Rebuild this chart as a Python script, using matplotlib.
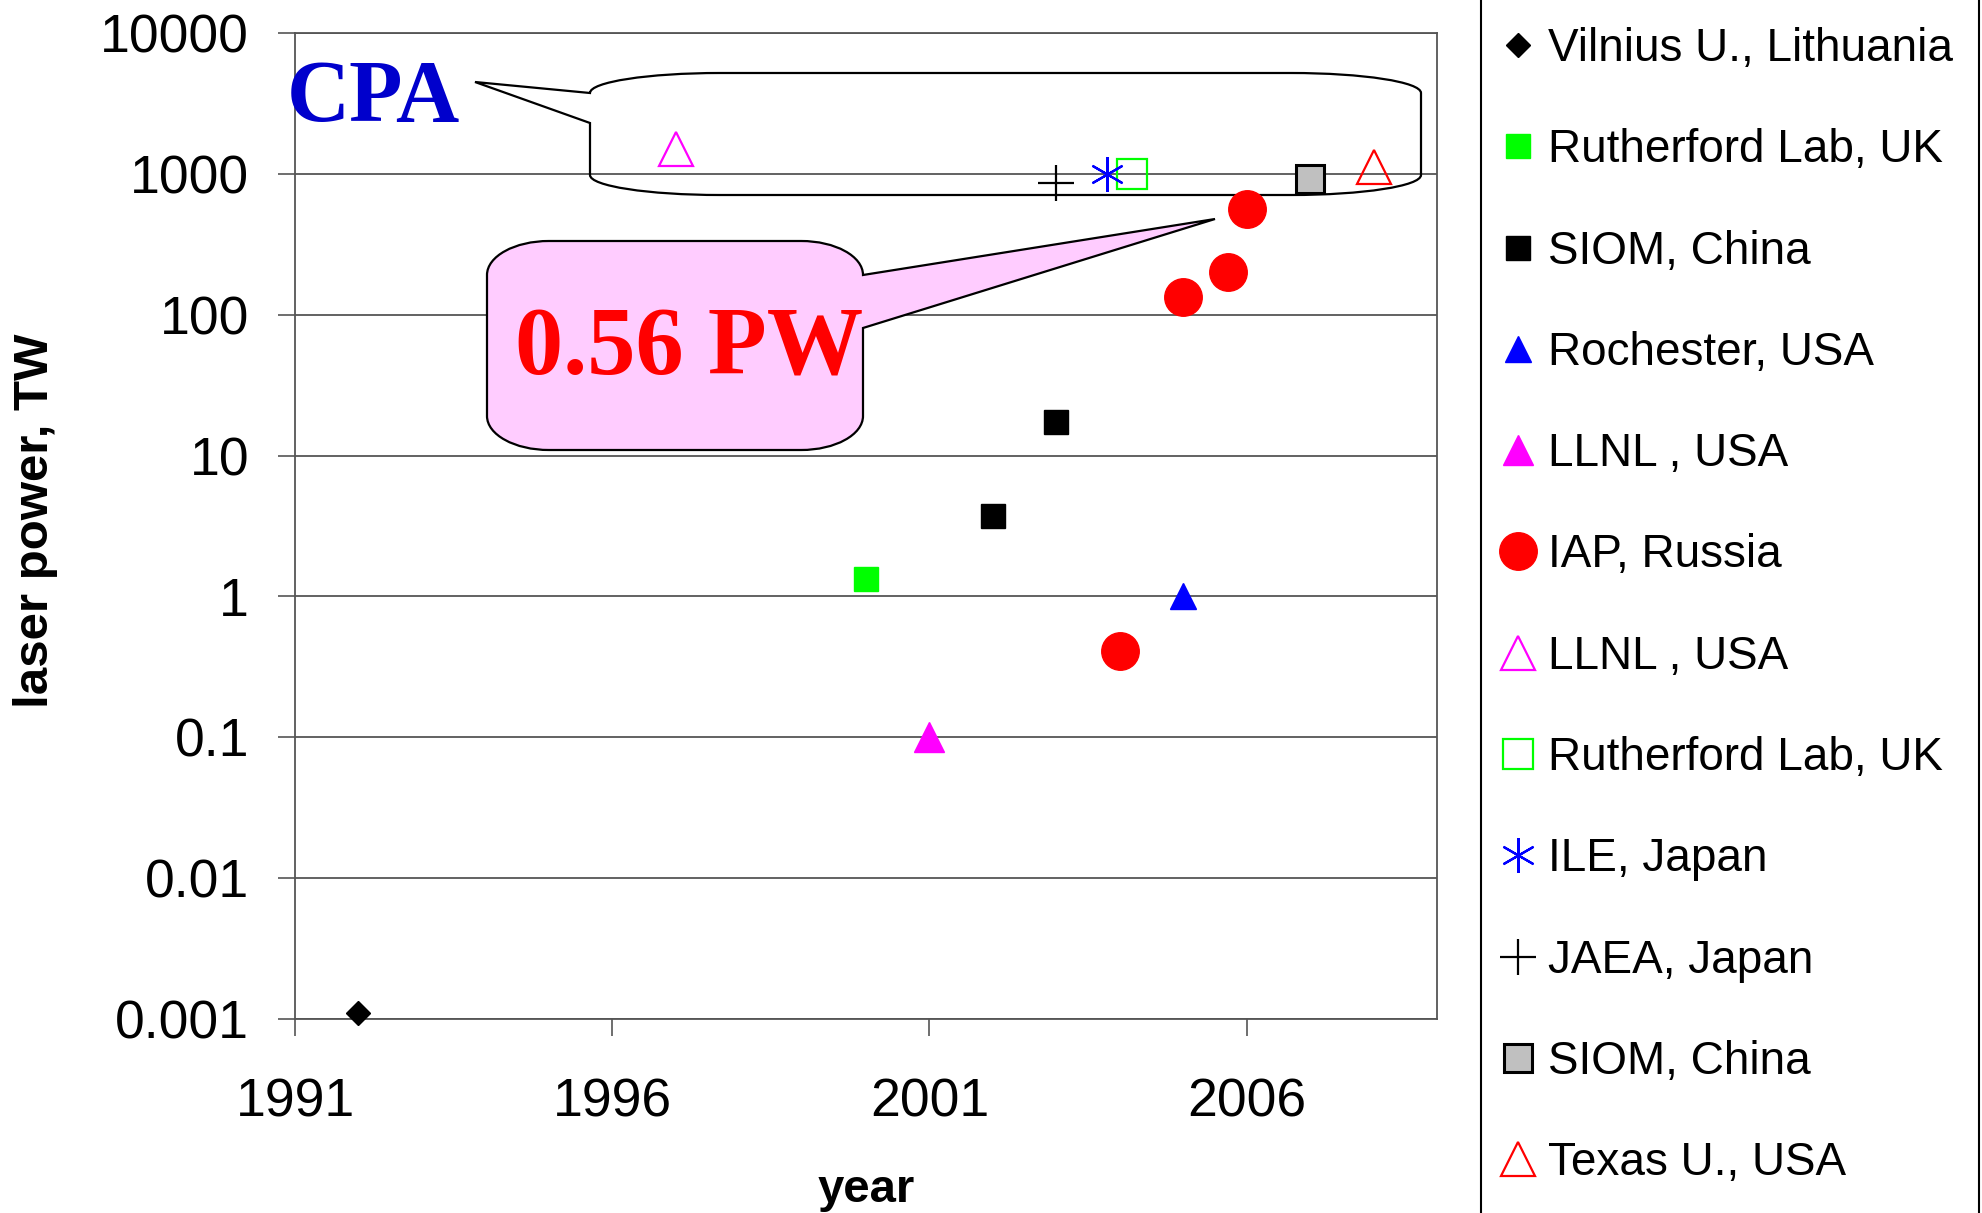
import matplotlib
matplotlib.use("Agg")
import matplotlib.pyplot as plt
from matplotlib.path import Path
from matplotlib.patches import PathPatch
from matplotlib.lines import Line2D
from matplotlib.ticker import FixedLocator, FixedFormatter, NullLocator

# data (year, laser power in TW)
vilnius_year = [1992]
vilnius_tw = [0.0011]
ral_year = [2000]
ral_tw = [1.33]
siom_year = [2002, 2003]
siom_tw = [3.7, 17.3]
rochester_year = [2005]
rochester_tw = [1.0]
llnl_year = [2001]
llnl_tw = [0.1]
iap_year = [2004, 2005, 2005.7, 2006]
iap_tw = [0.41, 133, 202, 560]
llnl_cpa_year = [1997]
llnl_cpa_tw = [1500]
ral_cpa_year = [2004.2]
ral_cpa_tw = [1000]
ile_year = [2003.8]
ile_tw = [1000]
jaea_year = [2003]
jaea_tw = [860]
siom_cpa_year = [2007]
siom_cpa_tw = [915]
texas_year = [2008]
texas_tw = [1120]

year_ticks = [1991, 1996, 2001, 2006]
power_ticks = [0.001, 0.01, 0.1, 1, 10, 100, 1000, 10000]
power_labels = ["0.001", "0.01", "0.1", "1", "10", "100", "1000", "10000"]

W, H = 1982, 1213
plt.rcParams['font.family'] = ['Liberation Sans', 'DejaVu Sans']

fig = plt.figure(figsize=(W / 100, H / 100), dpi=100)
ax = fig.add_axes([295 / W, 1 - 1019 / H, (1437 - 295) / W, (1019 - 33) / H])

ax.set_yscale("log")
ax.set_xlim(1991, 2009)
ax.set_ylim(0.001, 10000)

ax.xaxis.set_major_locator(FixedLocator(year_ticks))
ax.xaxis.set_minor_locator(NullLocator())
ax.yaxis.set_major_locator(FixedLocator(power_ticks))
ax.yaxis.set_major_formatter(FixedFormatter(power_labels))
ax.yaxis.set_minor_locator(NullLocator())
ax.tick_params(axis="both", direction="out", length=12, width=1.2, color="#555555", labelsize=38.5)
ax.tick_params(axis="y", pad=21)
ax.tick_params(axis="x", pad=30)
ax.grid(axis="y", color="#555555", lw=1.3, zorder=0)
ax.set_axisbelow(True)
for s in ax.spines.values():
    s.set_color("#555555")
    s.set_linewidth(1.3)

series = [
    (vilnius_year, vilnius_tw, dict(marker="D", ms=12.5, color="black", mfc="black"), "Vilnius U., Lithuania"),
    (ral_year, ral_tw, dict(marker="s", ms=17, color="#00FF00", mfc="#00FF00"), "Rutherford Lab, UK"),
    (siom_year, siom_tw, dict(marker="s", ms=17, color="black", mfc="black"), "SIOM, China"),
    (rochester_year, rochester_tw, dict(marker="^", ms=19, color="#0000FF", mfc="#0000FF"), "Rochester, USA"),
    (llnl_year, llnl_tw, dict(marker="^", ms=21, color="#FF00FF", mfc="#FF00FF"), "LLNL , USA"),
    (iap_year, iap_tw, dict(marker="o", ms=27, color="#FF0000", mfc="#FF0000"), "IAP, Russia"),
    (llnl_cpa_year, llnl_cpa_tw, dict(marker="^", ms=24, color="#FF00FF", mfc="none", mew=1.6), "LLNL , USA"),
    (ral_cpa_year, ral_cpa_tw, dict(marker="s", ms=22, color="#00FF00", mfc="none", mew=1.6), "Rutherford Lab, UK"),
    (ile_year, ile_tw, dict(marker=(6, 2, 0), ms=25, color="#0000FF", mew=1.6), "ILE, Japan"),
    (jaea_year, jaea_tw, dict(marker="+", ms=26, color="black", mew=1.6), "JAEA, Japan"),
    (siom_cpa_year, siom_cpa_tw, dict(marker="s", ms=20, color="black", mfc="#C0C0C0", mew=2.2), "SIOM, China"),
    (texas_year, texas_tw, dict(marker="^", ms=24, color="#FF0000", mfc="none", mew=1.6), "Texas U., USA"),
]

handles = []
labels = []
for xs, ys, style, name in series:
    h, = ax.plot(xs, ys, ls="none", zorder=4, clip_on=False, **style)
    handles.append(h)
    labels.append(name)


def to_fig(pts):
    return [(x / W, 1 - y / H) for x, y in pts]


K = 0.5523


def corner(a, c, b):
    # cubic quarter-ellipse from a to b around corner point c
    c1 = (a[0] + K * (c[0] - a[0]), a[1] + K * (c[1] - a[1]))
    c2 = (b[0] + K * (c[0] - b[0]), b[1] + K * (c[1] - b[1]))
    return [c1, c2, b]


def callout(pts_codes, **kw):
    verts = [p for p, c in pts_codes]
    codes = [c for p, c in pts_codes]
    path = Path(to_fig(verts), codes)
    patch = PathPatch(path, transform=fig.transFigure, clip_on=False, **kw)
    ax.add_patch(patch)


def build(seq):
    out = []
    for item in seq:
        if item[0] == "M":
            out.append((item[1], Path.MOVETO))
        elif item[0] == "L":
            out.append((item[1], Path.LINETO))
        elif item[0] == "C":
            prev = out[-1][0]
            for p in corner(prev, item[1], item[2]):
                out.append((p, Path.CURVE4))
    out.append((out[0][0], Path.CLOSEPOLY))
    return out


# CPA bubble (transparent)
l, t, r, b, rx, ry = 590, 73, 1421, 195, 130, 20
cpa = build([
    ("M", (475, 82)),
    ("L", (l, 123)),
    ("L", (l, b - ry)),
    ("C", (l, b), (l + rx, b)),
    ("L", (r - rx, b)),
    ("C", (r, b), (r, b - ry)),
    ("L", (r, t + ry)),
    ("C", (r, t), (r - rx, t)),
    ("L", (l + rx, t)),
    ("C", (l, t), (l, t + ry)),
])
callout(cpa, facecolor="none", edgecolor="black", lw=1.6, zorder=2.5)

# 0.56 PW bubble (pink)
l, t, r, b, rx, ry = 487, 241, 863, 450, 62, 34
pw = build([
    ("M", (r, t + ry)),
    ("L", (1215, 219)),
    ("L", (r, 328)),
    ("L", (r, b - ry)),
    ("C", (r, b), (r - rx, b)),
    ("L", (l + rx, b)),
    ("C", (l, b), (l, b - ry)),
    ("L", (l, t + ry)),
    ("C", (l, t), (l + rx, t)),
    ("L", (r - rx, t)),
    ("C", (r, t), (r, t + ry)),
])
callout(pw, facecolor="#FFCCFF", edgecolor="black", lw=1.6, zorder=2.5)

fig.text(287 / W, 1 - 121 / H, "CPA", family=["Liberation Serif", "DejaVu Serif"],
         weight="bold", fontsize=63, color="#0000CC", ha="left", va="baseline")
fig.text(515 / W, 1 - 375 / H, "0.56 PW", family=["Liberation Serif", "DejaVu Serif"],
         weight="bold", fontsize=69.5, color="#FF0000", ha="left", va="baseline")

fig.text(36 / W, 1 - 521 / H, "laser power, TW", rotation=90, fontsize=35.5,
         weight="bold", ha="center", va="center")
fig.text(866 / W, 1 - 1190 / H, "year", fontsize=34, weight="bold", ha="center", va="center")

# legend outside on the right, its frame runs off the figure
fig.add_artist(Line2D([1481 / W, 1481 / W], [0, 1], color="black", lw=1.5, transform=fig.transFigure))
fig.add_artist(Line2D([1979 / W, 1979 / W], [0, 1], color="black", lw=1.5, transform=fig.transFigure))
fig.legend(handles, labels, loc="upper left", bbox_to_anchor=(1500 / W, 1 - 27 / H),
           frameon=False, fontsize=33, handlelength=0.8, handletextpad=0.25,
           labelspacing=1.25, borderpad=0, borderaxespad=0, numpoints=1)

fig.savefig("out.png", dpi=100)
